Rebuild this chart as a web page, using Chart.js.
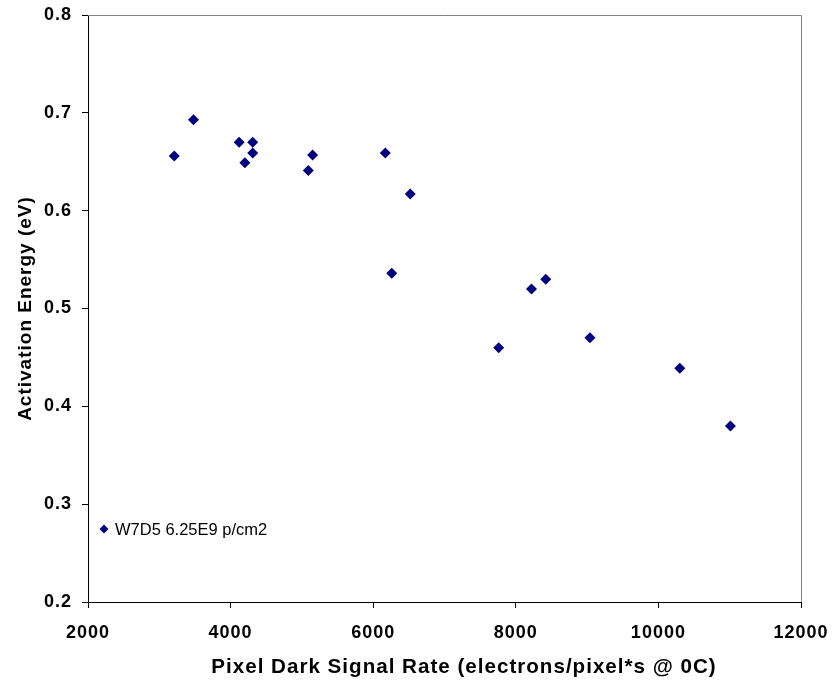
<!DOCTYPE html>
<html>
<head>
<meta charset="utf-8">
<script src="https://cdn.jsdelivr.net/npm/chart.js@4"></script>
<style>
  html, body { margin: 0; padding: 0; background: #fff; }
  #wrap { width: 832px; height: 683px; }
</style>
</head>
<body>
<div id="wrap"><canvas id="chart" width="832" height="683"></canvas></div>
<script>
// Dark signal rate vs activation energy
const seriesLabel = 'W7D5 6.25E9 p/cm2';
const xTitle = 'Pixel Dark Signal Rate (electrons/pixel*s @ 0C)';
const yTitle = 'Activation Energy (eV)';
const darkRate = [3210, 3480, 4120, 4310, 4310, 4200, 5150, 5090, 6170, 6520, 6260, 8220, 8420, 7760, 9040, 10300, 11010];
const activation = [0.656, 0.693, 0.670, 0.670, 0.659, 0.649, 0.657, 0.641, 0.659, 0.617, 0.536, 0.520, 0.530, 0.460, 0.470, 0.439, 0.380];
const xTicks = [2000, 4000, 6000, 8000, 10000, 12000];
const yTicks = [0.2, 0.3, 0.4, 0.5, 0.6, 0.7, 0.8];

const navy = '#000080';
const fam = 'Liberation Sans, Arial, sans-serif';
const tickFont = { family: fam, size: 18, weight: 'bold' };

// wider spacing like the original's text, gray top/right frame, x title (off-centre in the original), legend inside plot
const framePlugin = {
  id: 'frame',
  beforeDraw(chart) {
    chart.ctx.letterSpacing = '1px';
  },
  afterDraw(chart) {
    const { ctx, chartArea: a } = chart;
    ctx.save();
    ctx.strokeStyle = '#808080';
    ctx.lineWidth = 1;
    ctx.beginPath();
    ctx.moveTo(a.left, a.top + 0.5);
    ctx.lineTo(a.right + 0.5, a.top + 0.5);
    ctx.lineTo(a.right + 0.5, a.bottom);
    ctx.stroke();

    ctx.fillStyle = '#000';
    ctx.letterSpacing = '1px';
    ctx.font = 'bold 20.6px ' + fam;
    ctx.textAlign = 'center';
    ctx.textBaseline = 'middle';
    ctx.fillText(xTitle, a.left + 376, a.bottom + 65);

    // legend
    const lx = a.left + 16, ly = a.top + 514;
    ctx.fillStyle = navy;
    ctx.beginPath();
    ctx.moveTo(lx, ly - 4.5);
    ctx.lineTo(lx + 4.5, ly);
    ctx.lineTo(lx, ly + 4.5);
    ctx.lineTo(lx - 4.5, ly);
    ctx.closePath();
    ctx.fill();
    ctx.fillStyle = '#000';
    ctx.letterSpacing = '0px';
    ctx.font = '16.5px ' + fam;
    ctx.textAlign = 'left';
    ctx.fillText(seriesLabel, lx + 11, ly + 1);
    ctx.restore();
  }
};

new Chart(document.getElementById('chart').getContext('2d'), {
  type: 'scatter',
  data: {
    datasets: [{
      label: seriesLabel,
      data: darkRate.map((x, i) => ({ x: x, y: activation[i] })),
      pointStyle: 'rectRot',
      pointRadius: 5.5,
      backgroundColor: navy,
      borderColor: navy,
      borderWidth: 0
    }]
  },
  options: {
    responsive: false,
    animation: false,
    layout: { padding: { top: 15, right: 31, left: 0, bottom: 0 } },
    plugins: {
      legend: { display: false },
      tooltip: { enabled: false }
    },
    scales: {
      x: {
        type: 'linear',
        min: 2000,
        max: 12000,
        afterBuildTicks: s => { s.ticks = xTicks.map(v => ({ value: v })); },
        afterFit: s => { s.height = 81; s.paddingLeft = 0; s.paddingRight = 0; },
        grid: { drawOnChartArea: false, drawTicks: true, tickLength: 6, color: '#000' },
        border: { color: '#000', width: 1 },
        ticks: { color: '#000', font: tickFont, padding: 14, maxRotation: 0, callback: v => String(v) },
        title: { display: false, text: xTitle }
      },
      y: {
        min: 0.2,
        max: 0.8,
        afterBuildTicks: s => { s.ticks = yTicks.map(v => ({ value: v })); },
        afterFit: s => { s.width = 88; s.paddingTop = 0; s.paddingBottom = 0; },
        grid: { drawOnChartArea: false, drawTicks: true, tickLength: 6, color: '#000' },
        border: { color: '#000', width: 1 },
        ticks: { color: '#000', font: tickFont, padding: 10, callback: v => v.toFixed(1) },
        title: {
          display: true,
          text: yTitle,
          color: '#000',
          font: { family: fam, size: 19, weight: 'bold' },
          padding: { top: 14, bottom: 0 }
        }
      }
    }
  },
  plugins: [framePlugin]
});
</script>
</body>
</html>
